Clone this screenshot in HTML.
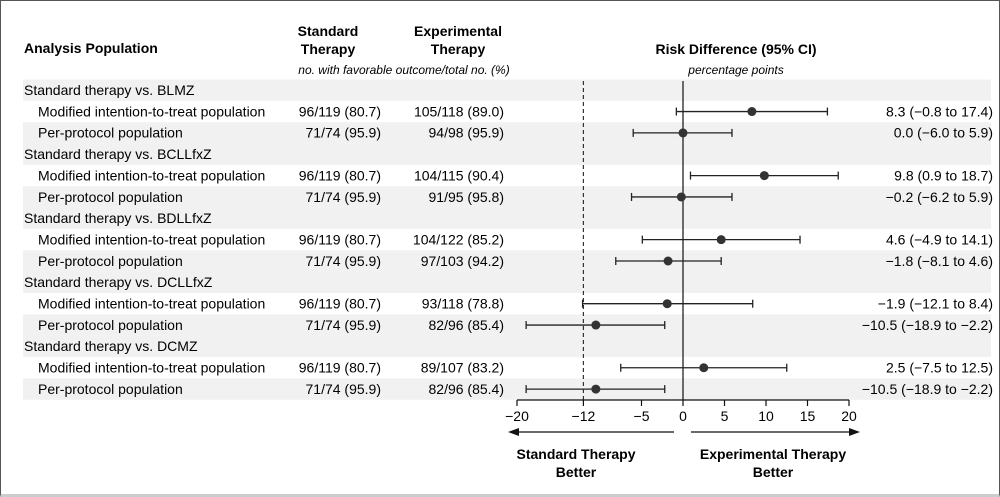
<!DOCTYPE html>
<html><head><meta charset="utf-8"><style>
body{margin:0;background:#fff}
#c{position:relative;width:1000px;height:497px;overflow:hidden;font-family:"Liberation Sans",sans-serif;color:#111;box-sizing:border-box;border:1px solid #555;border-bottom:3px solid #ccc}
svg text{font-family:"Liberation Sans",sans-serif}
</style></head><body>
<div id="c">
<svg id="s" width="1000" height="497"></svg>
</div>
<script>
const groups=["Standard therapy vs. BLMZ","Standard therapy vs. BCLLfxZ","Standard therapy vs. BDLLfxZ","Standard therapy vs. DCLLfxZ","Standard therapy vs. DCMZ"];
const stdVals=["96/119 (80.7)","71/74 (95.9)","96/119 (80.7)","71/74 (95.9)","96/119 (80.7)","71/74 (95.9)","96/119 (80.7)","71/74 (95.9)","96/119 (80.7)","71/74 (95.9)"];
const expVals=["105/118 (89.0)","94/98 (95.9)","104/115 (90.4)","91/95 (95.8)","104/122 (85.2)","97/103 (94.2)","93/118 (78.8)","82/96 (85.4)","89/107 (83.2)","82/96 (85.4)"];
const est=[8.3,0.0,9.8,-0.2,4.6,-1.8,-1.9,-10.5,2.5,-10.5];
const lo=[-0.8,-6.0,0.9,-6.2,-4.9,-8.1,-12.1,-18.9,-7.5,-18.9];
const hi=[17.4,5.9,18.7,5.9,14.1,4.6,8.4,-2.2,12.5,-2.2];
const ticks=[-20,-12,-5,0,5,10,15,20];
const fmt=v=>(v<0?"\u2212":"")+Math.abs(v).toFixed(1);
const s=document.getElementById('s');const NS="http://www.w3.org/2000/svg";
function el(t,a,txt){const e=document.createElementNS(NS,t);for(const k in a)e.setAttribute(k,a[k]);if(txt!=null)e.textContent=txt;s.appendChild(e);return e;}
const X=v=>682+v*8.3;
const rowY=i=>78.5+21.35*i;
for(let i=0;i<15;i++){const r=i%3;if(r!==1){const e=el('rect',{x:22,y:rowY(i),width:968,height:21.35,fill:'#f1f1f1'});

}}
let h=el('text',{x:23,y:52,'font-size':14,'font-weight':'bold'},'Analysis Population');
h=el('text',{x:327,y:35,'font-size':14,'font-weight':'bold','text-anchor':'middle'},'Standard');
h=el('text',{x:327,y:53,'font-size':14,'font-weight':'bold','text-anchor':'middle'},'Therapy');
h=el('text',{x:457,y:35,'font-size':14,'font-weight':'bold','text-anchor':'middle'},'Experimental');
h=el('text',{x:457,y:53,'font-size':14,'font-weight':'bold','text-anchor':'middle'},'Therapy');
h=el('text',{x:403,y:73,'font-size':12,'font-style':'italic','text-anchor':'middle'},'no. with favorable outcome/total no. (%)');
h=el('text',{x:735,y:53,'font-size':14,'font-weight':'bold','text-anchor':'middle'},'Risk Difference (95% CI)');
h=el('text',{x:735,y:73,'font-size':12,'font-style':'italic','text-anchor':'middle'},'percentage points');
let l=el('line',{x1:X(-12),x2:X(-12),y1:80,y2:399,stroke:'#333','stroke-width':1.2,'stroke-dasharray':'4,3'});
l=el('line',{x1:X(0),x2:X(0),y1:80,y2:399,stroke:'#111','stroke-width':1.2});
for(let g=0;g<5;g++){
 const t=el('text',{x:23,y:rowY(g*3)+15.5,'font-size':14},groups[g]);
 
 
 for(let k=0;k<2;k++){
  const i=g*2+k, y=rowY(g*3+1+k)+15.5, cy=rowY(g*3+1+k)+10.7;
  let e=el('text',{x:37,y:y,'font-size':14},k?'Per-protocol population':'Modified intention-to-treat population');
  
  
  e=el('text',{x:380,y:y,'font-size':14,'text-anchor':'end'},stdVals[i]);
  
  
  e=el('text',{x:503,y:y,'font-size':14,'text-anchor':'end'},expVals[i]);
  
  
  e=el('text',{x:992,y:y,'font-size':14,'text-anchor':'end'},fmt(est[i])+" ("+fmt(lo[i])+" to "+fmt(hi[i])+")");
  
  
  e=el('line',{x1:X(lo[i]),x2:X(hi[i]),y1:cy,y2:cy,stroke:'#222','stroke-width':1.3});
  
  
  for(const v of [lo[i],hi[i]]){e=el('line',{x1:X(v),x2:X(v),y1:cy-4,y2:cy+4,stroke:'#222','stroke-width':1.3});
  
  }
  e=el('circle',{cx:X(est[i]),cy:cy,r:4.5,fill:'#333'});
  
  
 }
}
l=el('line',{x1:X(-20),x2:X(20),y1:399,y2:399,stroke:'#111','stroke-width':1.3});
for(const t of ticks){
 let e=el('line',{x1:X(t),x2:X(t),y1:399,y2:405,stroke:'#111','stroke-width':1.2});
 
 
 e=el('text',{x:X(t),y:420,'font-size':14,'text-anchor':'middle'},t<0?"\u2212"+(-t):String(t));
 
 
}
l=el('line',{x1:514,x2:673,y1:431,y2:431,stroke:'#111','stroke-width':1.3});
l=el('polygon',{points:'507,431 518,427 518,435',fill:'#111'});
l=el('line',{x1:690,x2:852,y1:431,y2:431,stroke:'#111','stroke-width':1.3});
l=el('polygon',{points:'859,431 848,427 848,435',fill:'#111'});
h=el('text',{x:575,y:458,'font-size':14,'font-weight':'bold','text-anchor':'middle'},'Standard Therapy');
h=el('text',{x:575,y:476,'font-size':14,'font-weight':'bold','text-anchor':'middle'},'Better');
h=el('text',{x:772,y:458,'font-size':14,'font-weight':'bold','text-anchor':'middle'},'Experimental Therapy');
h=el('text',{x:772,y:476,'font-size':14,'font-weight':'bold','text-anchor':'middle'},'Better');
</script>
</body></html>
